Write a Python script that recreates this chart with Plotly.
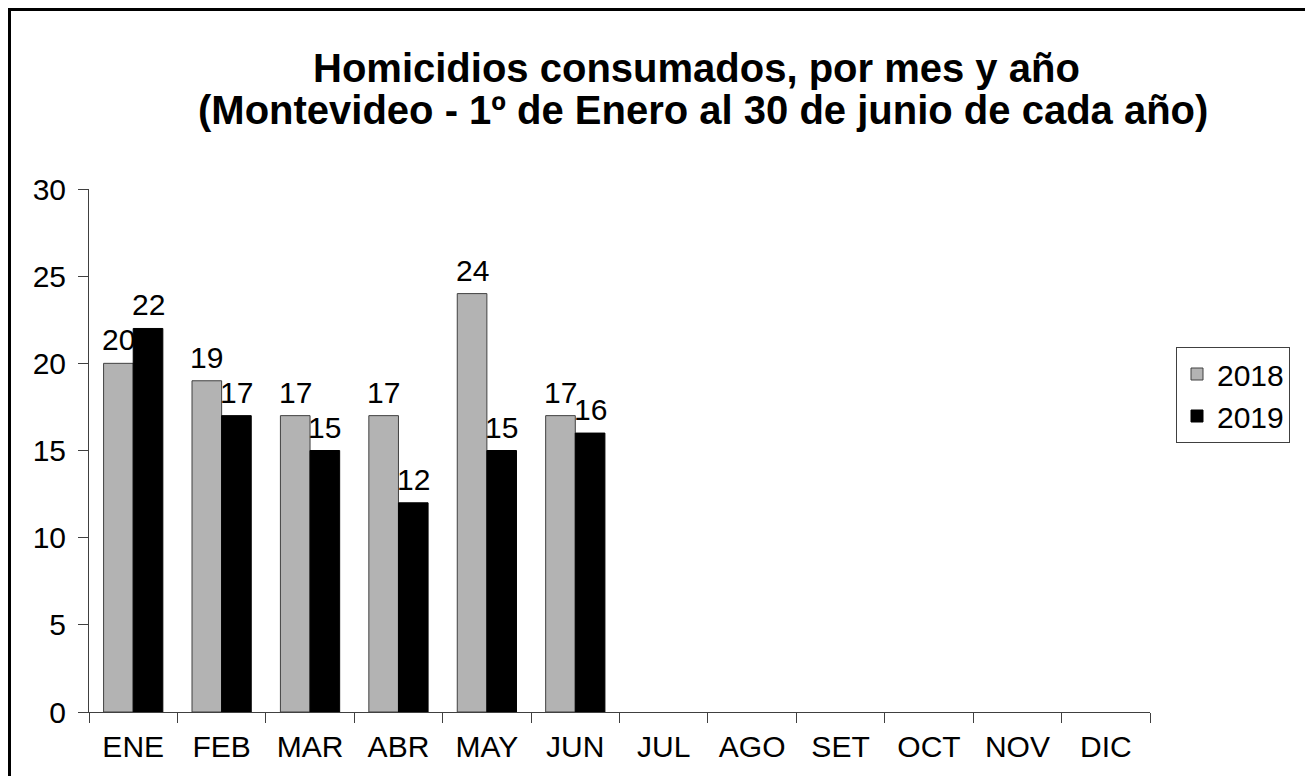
import plotly.graph_objects as go

months = ["ENE", "FEB", "MAR", "ABR", "MAY", "JUN", "JUL", "AGO", "SET", "OCT", "NOV", "DIC"]
vals_2018 = [20, 19, 17, 17, 24, 17, None, None, None, None, None, None]
vals_2019 = [22, 17, 15, 12, 15, 16, None, None, None, None, None, None]
y_ticks = [0, 5, 10, 15, 20, 25, 30]

FONT = "Liberation Sans, Arial, sans-serif"
# page body has an 8px margin; figure coords = screen coords - 8
W, H = 1305, 768
L, T = 81, 181
PW, PH = 1061, 523
R, B = W - L - PW, H - T - PH
BARGAP = 0.33

def px(x):
    return (x - L) / PW

def py(y):
    return (T + PH - y) / PH

fig = go.Figure()
fig.add_trace(go.Bar(
    name="2018", x=months, y=vals_2018,
    marker=dict(color="#B3B3B3", line=dict(color="#404040", width=1)),
))
fig.add_trace(go.Bar(
    name="2019", x=months, y=vals_2019,
    marker=dict(color="black", line=dict(color="black", width=1)),
))

# value labels above each bar
cat_w = PW / len(months)
half = cat_w * (1 - BARGAP) / 4
for vals, shift in ((vals_2018, -half), (vals_2019, half)):
    for m, v in zip(months, vals):
        if v is None:
            continue
        fig.add_annotation(
            x=m, y=v, xref="x", yref="y", text=str(v), showarrow=False,
            xanchor="center", yanchor="bottom", xshift=shift, yshift=5,
            font=dict(family=FONT, size=30, color="black"),
        )

fig.update_layout(
    width=W, height=H,
    margin=dict(l=L, r=R, t=T, b=B, autoexpand=False),
    paper_bgcolor="white", plot_bgcolor="white",
    barmode="group", bargap=BARGAP, bargroupgap=0,
    font=dict(family=FONT, size=30, color="black"),
    showlegend=True,
    legend=dict(
        x=px(1168), y=py(339), xanchor="left", yanchor="top",
        bordercolor="#404040", borderwidth=1, bgcolor="white",
        font=dict(family=FONT, size=30, color="black"),
        tracegroupgap=0, itemwidth=30,
    ),
    xaxis=dict(
        type="category", categoryorder="array", categoryarray=months,
        showline=True, linecolor="#404040", linewidth=1,
        ticks="outside", tickson="boundaries", ticklen=10, tickcolor="#404040",
        showgrid=False, zeroline=False,
        tickfont=dict(family=FONT, size=30, color="black"),
        ticklabelstandoff=8,
    ),
    yaxis=dict(
        range=[0, 30], tickvals=y_ticks,
        showline=True, linecolor="#404040", linewidth=1,
        ticks="outside", ticklen=10, tickcolor="#404040",
        showgrid=False, zeroline=False,
        tickfont=dict(family=FONT, size=30, color="black"),
        ticklabelstandoff=6,
    ),
)

fig.add_annotation(
    text="<b>Homicidios consumados, por mes y año</b>",
    xref="paper", yref="paper", x=px(688.5), y=py(84),
    xanchor="center", yanchor="bottom", showarrow=False,
    font=dict(family=FONT, size=40, color="black"),
)
fig.add_annotation(
    text="<b>(Montevideo - 1º de Enero al 30 de junio de cada año)</b>",
    xref="paper", yref="paper", x=px(694.5), y=py(126),
    xanchor="center", yanchor="bottom", showarrow=False,
    font=dict(family=FONT, size=40, color="black"),
)

fig.add_shape(
    type="rect", xref="paper", yref="paper",
    x0=px(1.5), x1=px(1301), y0=py(1.5), y1=py(800),
    line=dict(color="black", width=3), fillcolor="rgba(0,0,0,0)",
    layer="above",
)

fig.write_html("out.html")
